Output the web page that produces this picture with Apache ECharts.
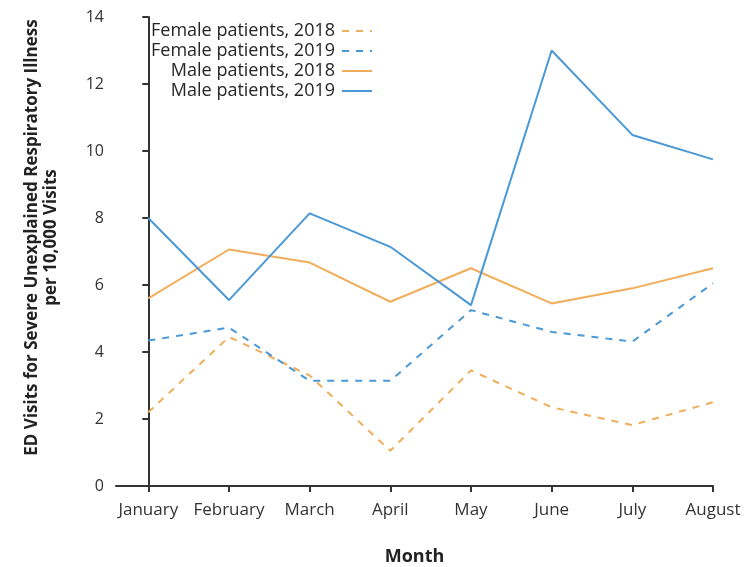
<!DOCTYPE html>
<html>
<head>
<meta charset="utf-8">
<script src="https://cdn.jsdelivr.net/npm/echarts@6/dist/echarts.min.js"></script>
<style>html,body{margin:0;padding:0;background:#fff}#c{width:747px;height:567px}</style>
</head>
<body>
<div id="c"></div>
<script>
const months = ['January','February','March','April','May','June','July','August'];
const yTicks = [0,2,4,6,8,10,12,14];
const female2018 = [2.2, 4.45, 3.3, 1.05, 3.45, 2.35, 1.82, 2.5];
const female2019 = [4.34, 4.73, 3.14, 3.14, 5.25, 4.6, 4.31, 6.05];
const male2018 = [5.6, 7.06, 6.67, 5.5, 6.5, 5.45, 5.9, 6.5];
const male2019 = [8.0, 5.55, 8.14, 7.14, 5.4, 13.0, 10.48, 9.75];

const ORANGE = '#F0AD5B';
const BLUE = '#4A98D5';
const FONT = 'Open Sans';

function pts(arr){ return arr.map((v,i)=>[i,v]); }
function series(name, arr, color, dashed){
  return {name, type:'line', data:pts(arr), symbol:'none', smooth:false,
    lineStyle:{color, width:2, type: dashed ? [7,7] : 'solid'},
    itemStyle:{color}};
}

const chart = echarts.init(document.getElementById('c'));
chart.setOption({
  animation:false,
  textStyle:{fontFamily:FONT},
  grid:{left:116, right:34, top:17, bottom:81, containLabel:false, outerBoundsMode:'none'},
  legend:{
    left:146, top:17, orient:'vertical', align:'right',
    itemWidth:30, itemHeight:12, itemGap:2,
    itemStyle:{color:'transparent', borderWidth:0},
    textStyle:{fontFamily:FONT, fontSize:18, lineHeight:18, color:'#262626', padding:[0,2,0,0]},
    data:['Female patients, 2018','Female patients, 2019','Male patients, 2018','Male patients, 2019']
  },
  xAxis:{
    type:'value', min:-0.4, max:7,
    name:'Month', nameLocation:'middle', nameGap:62,
    nameTextStyle:{fontFamily:FONT, fontSize:18, fontWeight:'bold', color:'#222'},
    axisLine:{lineStyle:{color:'#333', width:2}},
    axisTick:{show:true, length:6, lineStyle:{color:'#333', width:2}, customValues:[0,1,2,3,4,5,6,7]},
    axisLabel:{customValues:[0,1,2,3,4,5,6,7], margin:16, fontSize:17, color:'#333', fontFamily:FONT,
      formatter:(v)=>months[Math.round(v)] || ''},
    splitLine:{show:false}
  },
  yAxis:{
    type:'value', min:0, max:14, interval:2,
    name:'ED Visits for Severe Unexplained Respiratory Illness\nper 10,000 Visits',
    nameLocation:'middle', nameGap:55, nameRotate:90,
    nameTextStyle:{fontFamily:FONT, fontSize:17, fontWeight:'bold', color:'#222', lineHeight:19, padding:[0,0,0,28]},
    axisLine:{show:true, lineStyle:{color:'#333', width:2}},
    axisTick:{show:true, length:6, lineStyle:{color:'#333', width:2}},
    axisLabel:{margin:12, fontSize:16, color:'#333', fontFamily:FONT,
      formatter:(v)=> yTicks.includes(v) ? String(v) : ''},
    splitLine:{show:false}
  },
  series:[
    series('Female patients, 2018', female2018, ORANGE, true),
    series('Female patients, 2019', female2019, BLUE, true),
    series('Male patients, 2018', male2018, ORANGE, false),
    series('Male patients, 2019', male2019, BLUE, false)
  ]
});
</script>
</body>
</html>
